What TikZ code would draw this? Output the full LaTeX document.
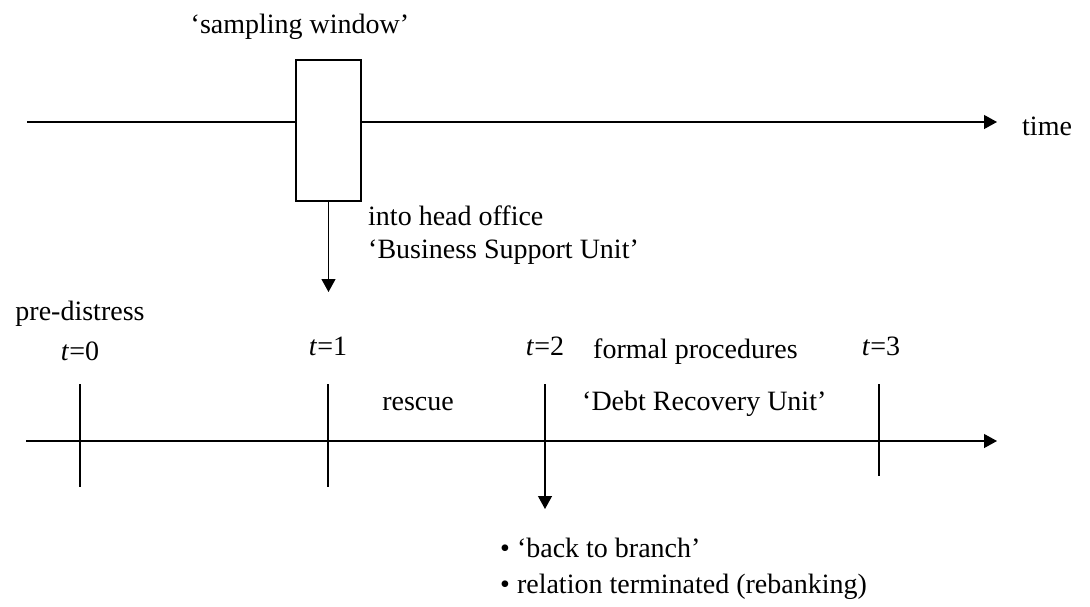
\documentclass[tikz,border=0pt]{standalone}
\usepackage{fontspec}
\setmainfont{Liberation Serif}
\usetikzlibrary{arrows.meta}
\begin{document}
\begin{tikzpicture}[x=1pt,y=-1pt,
  ln/.style={line width=1.2pt},
  tip/.style={-{Triangle[length=13pt,width=14pt]}},
  lbl/.style={inner sep=0pt,font=\fontsize{28}{33}\selectfont},
]
\useasboundingbox (0,0) rectangle (1090,606);
% top timeline with sampling window
\node[draw,line width=1.2pt,minimum width=65pt,minimum height=141pt,inner sep=0pt] (win) at (328.5,130.5) {};
\coordinate (ts) at (27,122);
\coordinate (te) at (997,122);
\draw[ln] (ts) -- (ts -| win.west);
\draw[ln,tip] (ts -| win.east) -- (te);
\coordinate (wdown) at (328.5,292);
\draw[ln,tip] (win.south) -- (wdown);
\node[lbl,anchor=base] (sw) at (300,33) {‘sampling window’};
\node[lbl,anchor=base west] (time) at (1022,135) {time};
\node[lbl,anchor=base west] (hoa) at (368,225) {into head office};
\node[lbl,anchor=base west] (hob) at (368,258) {‘Business Support Unit’};
% bottom timeline
\coordinate (bs) at (26,441);
\coordinate (be) at (997,441);
\draw[ln,tip] (bs) -- (be);
\coordinate (k0a) at (80,384);  \coordinate (k0b) at (80,487);
\coordinate (k1a) at (328,384); \coordinate (k1b) at (328,487);
\coordinate (k2a) at (545,384); \coordinate (k2b) at (545,509);
\coordinate (k3a) at (879,384); \coordinate (k3b) at (879,476);
\draw[ln] (k0a) -- (k0b);
\draw[ln] (k1a) -- (k1b);
\draw[ln,tip] (k2a) -- (k2b);
\draw[ln] (k3a) -- (k3b);
\node[lbl,anchor=base] (pre) at (80,320) {pre-distress};
\node[lbl,anchor=base] (t0) at (80,360) {\textit{t}=0};
\node[lbl,anchor=base] (t1) at (328,355) {\textit{t}=1};
\node[lbl,anchor=base] (t2) at (545,355) {\textit{t}=2};
\node[lbl,anchor=base] (t3) at (881,355) {\textit{t}=3};
\node[lbl,anchor=base west] (fp) at (593,358) {formal procedures};
\node[lbl,anchor=base] (resc) at (418,410) {rescue};
\node[lbl,anchor=base west] (dru) at (582,410) {‘Debt Recovery Unit’};
\node[lbl,anchor=base west] (b1) at (500,557) {• ‘back to branch’};
\node[lbl,anchor=base west] (b2) at (500,593) {• relation terminated (rebanking)};
\end{tikzpicture}
\end{document}
